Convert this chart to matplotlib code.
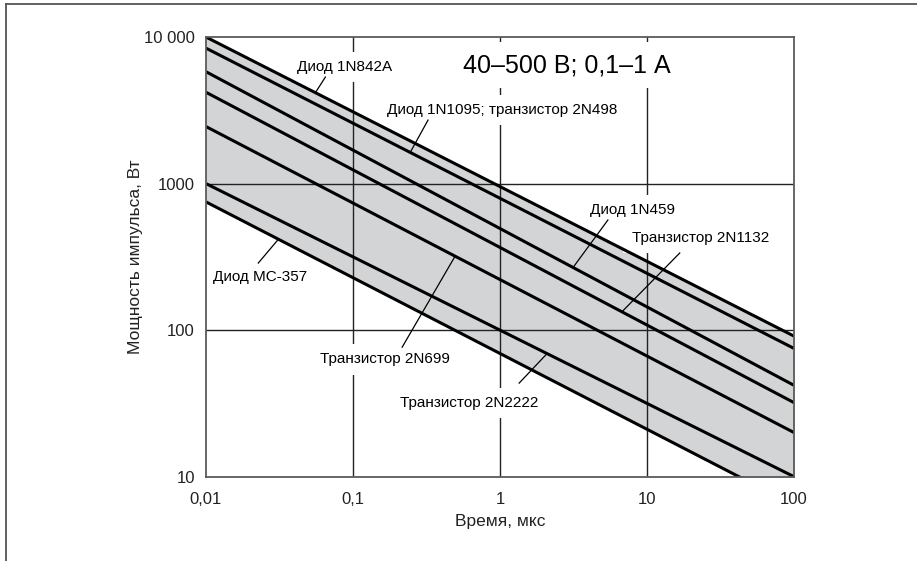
import matplotlib
matplotlib.use("Agg")
import matplotlib.pyplot as plt
from matplotlib.lines import Line2D
import numpy as np

plt.rcParams['font.family'] = ['Liberation Sans', 'DejaVu Sans']

# ---- data ----
t_range = [0.01, 100]
line_names = [
    "Диод 1N842A",
    "Диод 1N1095; транзистор 2N498",
    "Диод 1N459",
    "Транзистор 2N1132",
    "Транзистор 2N699",
    "Транзистор 2N2222",
    "Диод МС-357",
]
p_at_start = [10000, 8400, 5800, 4200, 2450, 1000, 750]
p_at_end = [91, 75, 42, 32, 20, 10, 6.4]

x_ticks = [0.01, 0.1, 1, 10, 100]
x_tick_labels = ["0,01", "0,1", "1", "10", "100"]
y_ticks = [10, 100, 1000, 10000]
y_tick_labels = ["10", "100", "1000", "10 000"]

title_text = "40–500 В; 0,1–1 А"
x_label = "Время, мкс"
y_label = "Мощность импульса, Вт"

# label placement (data coords), leader start, and t where leader meets the curve
label_pos = [(0.0419, 6240), (0.171, 3175), (4.09, 659), (7.89, 425),
             (0.06, 63.4), (0.2095, 31.8), (0.01125, 230)]
leader_start = [(0.0649, 5330), (0.324, 2712), (5.42, 564), (16.7, 336),
                (0.216, 76.5), (1.35, 43.5), (0.0227, 287)]
leader_t = [0.0555, 0.245, 3.14, 6.75, 0.495, 2.09, 0.0311]


def value_on_line(i, t):
    lt0, lt1 = np.log10(t_range)
    lp0, lp1 = np.log10(p_at_start[i]), np.log10(p_at_end[i])
    return 10 ** (lp0 + (np.log10(t) - lt0) * (lp1 - lp0) / (lt1 - lt0))


fig = plt.figure(figsize=(9.17, 5.61), dpi=100)
ax = fig.add_axes([0.2246, 0.1503, 0.6413, 0.7837])
ax.set_xscale('log')
ax.set_yscale('log')
ax.set_xlim(0.01, 100)
ax.set_ylim(10, 10000)

# band between the highest and the lowest curve
ax.fill_between(t_range, [p_at_start[-1], p_at_end[-1]],
                [p_at_start[0], p_at_end[0]], color='#d3d4d6', lw=0, zorder=0.5)

# grid
for xv in x_ticks[1:-1]:
    ax.axvline(xv, color='#222222', lw=1.0, zorder=1)
for yv in y_ticks[1:-1]:
    ax.axhline(yv, color='#222222', lw=1.0, zorder=1)

# curves
for i in range(len(line_names)):
    ax.plot(t_range, [p_at_start[i], p_at_end[i]], color='black', lw=2.2,
            zorder=3, solid_capstyle='butt')

# labels and leaders
for i, name in enumerate(line_names):
    ax.text(label_pos[i][0], label_pos[i][1], name, fontsize=11, ha='left',
            va='center', zorder=2,
            bbox=dict(facecolor='white', edgecolor='none', boxstyle='square,pad=0.55'))
    t_end = leader_t[i]
    ax.plot([leader_start[i][0], t_end], [leader_start[i][1], value_on_line(i, t_end)],
            color='black', lw=0.9, zorder=3)

ax.text(2.86, 6440, title_text, fontsize=18, ha='center', va='center', zorder=2,
        bbox=dict(facecolor='white', edgecolor='none', boxstyle='square,pad=0.45'))

ax.set_xticks(x_ticks)
ax.set_xticklabels(x_tick_labels)
ax.set_yticks(y_ticks)
ax.set_yticklabels(y_tick_labels)
ax.minorticks_off()
ax.tick_params(length=0, labelsize=12, pad=8, colors='#222222')
ax.tick_params(axis='x', pad=11)
for s in ax.spines.values():
    s.set_color('#5a5a5a')
    s.set_linewidth(1.3)
    s.set_zorder(4)

ax.set_xlabel(x_label, fontsize=12.5, color='#222222')
ax.set_ylabel(y_label, fontsize=12.5, color='#222222')
ax.xaxis.set_label_coords(0.5, -0.086)
ax.yaxis.set_label_coords(-0.119, 0.5)
ax.yaxis.label.set_va('center')

# page frame (top and left)
fig.add_artist(Line2D([6 / 917, 1], [1 - 4 / 561, 1 - 4 / 561], color='#555555', lw=1.3,
                      transform=fig.transFigure))
fig.add_artist(Line2D([6 / 917, 6 / 917], [0, 1 - 4 / 561], color='#555555', lw=1.3,
                      transform=fig.transFigure))

fig.savefig('out.png', dpi=100)
